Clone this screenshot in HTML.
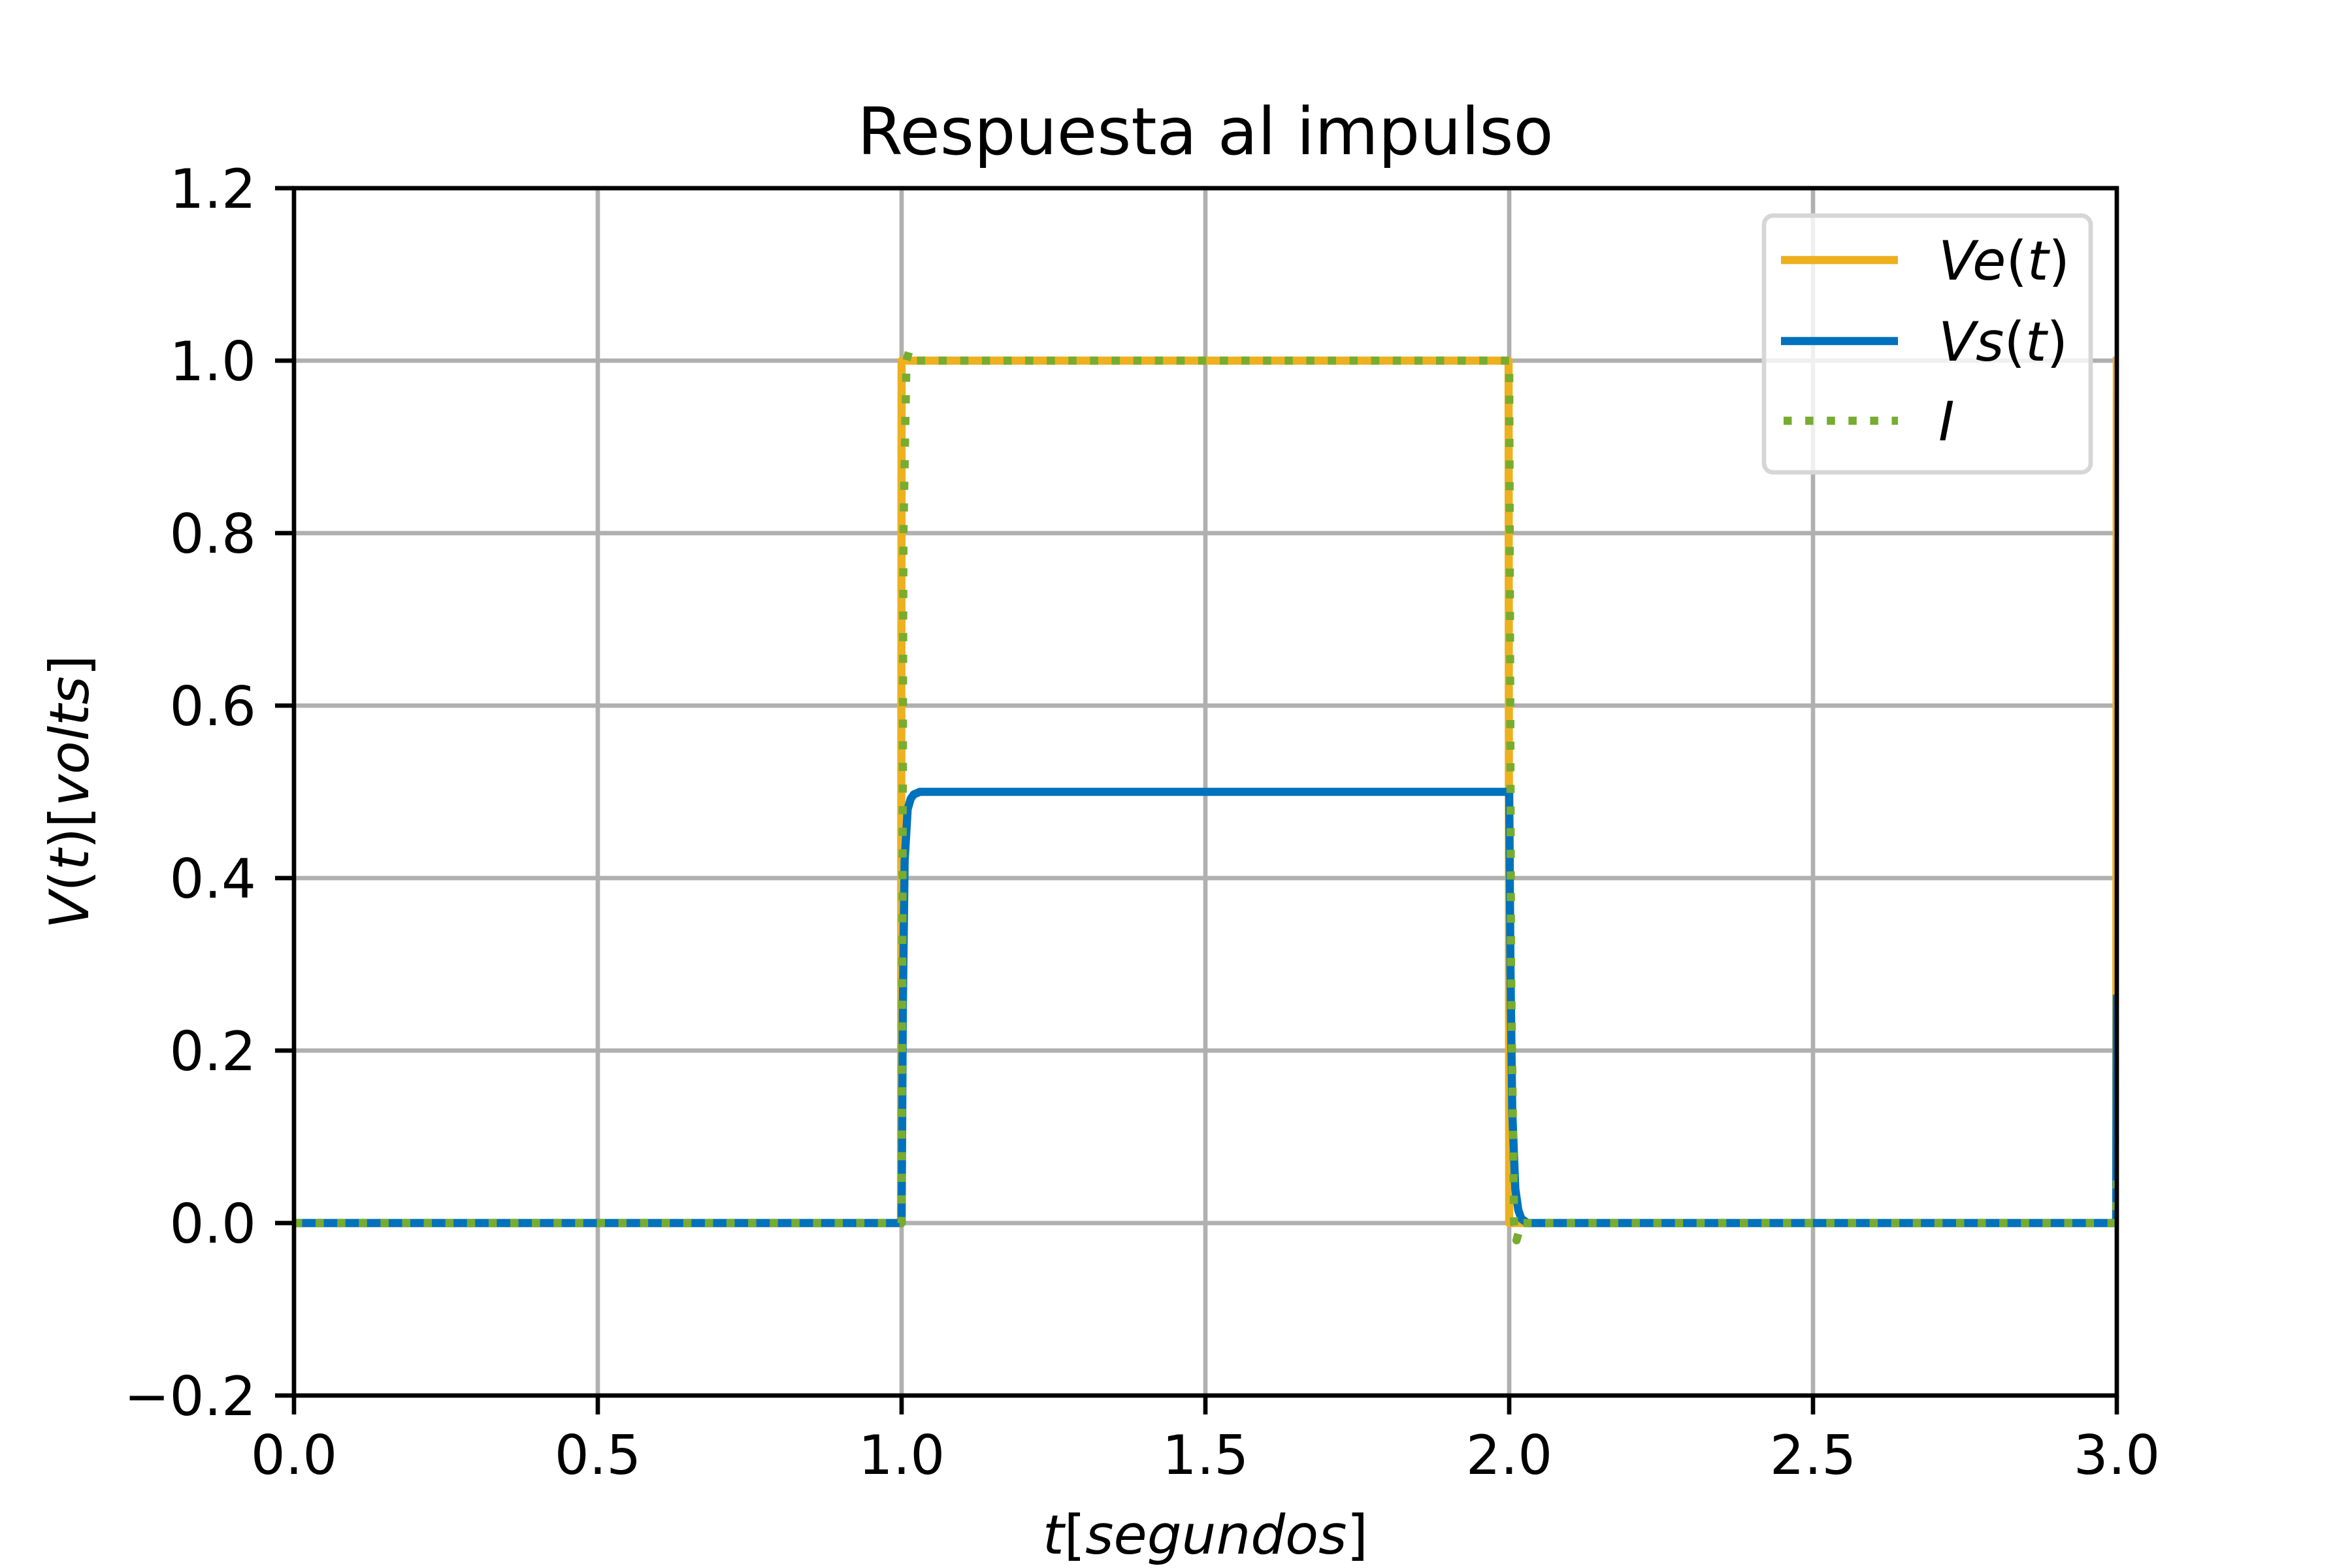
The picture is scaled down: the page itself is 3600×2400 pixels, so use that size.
<!DOCTYPE html>
<html><head><meta charset="utf-8"><style>
html,body{margin:0;padding:0;background:#fff;}
svg{display:block;font-family:"DejaVu Sans","Liberation Sans",sans-serif;}
.u{font-style:normal;}
</style></head><body>
<svg id="chart" width="3600" height="2400" viewBox="0 0 3600 2400" xmlns="http://www.w3.org/2000/svg">
<defs><clipPath id="clip"><rect x="450" y="288" width="2790" height="1848"/></clipPath></defs>
<rect width="3600" height="2400" fill="#fff"/>
<g id="grid"></g>
<g id="series" clip-path="url(#clip)"></g>
<rect x="450" y="288" width="2790" height="1848" fill="none" stroke="#000" stroke-width="6.67"/>
<g id="ticks"></g>
<text x="1845" y="236" font-size="100" text-anchor="middle">Respuesta al impulso</text>
<text x="1845" y="2378" font-size="83.3" font-style="italic" text-anchor="middle">t<tspan class="u">[</tspan>segundos<tspan class="u">]</tspan></text>
<text transform="translate(135,1212) rotate(-90)" font-size="83.3" font-style="italic" text-anchor="middle">V<tspan class="u">(</tspan>t<tspan class="u">)[</tspan>volts<tspan class="u">]</tspan></text>
<g>
<rect x="2700" y="330" width="500" height="393" rx="14" fill="#fff" fill-opacity="0.8" stroke="#d6d6d6" stroke-width="6.67"/>
<line x1="2726" y1="398" x2="2905" y2="398" stroke="#EDB120" stroke-width="12.5"/>
<text x="2967" y="428" font-size="83.3" font-style="italic">Ve<tspan class="u">(</tspan>t<tspan class="u">)</tspan></text>
<line x1="2726" y1="522" x2="2905" y2="522" stroke="#0072BD" stroke-width="12.5"/>
<text x="2967" y="552" font-size="83.3" font-style="italic">Vs<tspan class="u">(</tspan>t<tspan class="u">)</tspan></text>
<line x1="2730" y1="644" x2="2905" y2="644" stroke="#77AC30" stroke-width="12.5" stroke-dasharray="12.5 20.6"/>
<text x="2967" y="674" font-size="83.3" font-style="italic">I</text>
</g>
</svg>
<script>
const xTicks=[0,0.5,1.0,1.5,2.0,2.5,3.0];
const xTickLabels=["0.0","0.5","1.0","1.5","2.0","2.5","3.0"];
const yTicks=[-0.2,0,0.2,0.4,0.6,0.8,1.0,1.2];
const yTickLabels=["\u22120.2","0.0","0.2","0.4","0.6","0.8","1.0","1.2"];
const veT=[0,0.999,1.0,1.999,2.0,2.999,3.0];
const veV=[0,0,1,1,0,0,1];
const vsT=[0,1.0,1.002,1.005,1.01,1.015,1.02,1.03,2.0,2.002,2.005,2.01,2.015,2.02,2.03,2.999,3.0];
const vsV=[0,0,0.25,0.42,0.48,0.492,0.497,0.5,0.5,0.3,0.13,0.04,0.015,0.005,0,0,0.26];
const iT=[0,1.0,1.003,1.008,1.012,1.02,2.0,2.003,2.008,2.012,2.02,2.999,3.0];
const iV=[0,0,0.8,1.0,1.01,1.0,1.0,0.3,0.0,-0.02,0,0,0.05];
const X0=450,X1=3240,Y0=2136,Y1=288;
const xs=v=>X0+(v-0)/(3-0)*(X1-X0);
const ys=v=>Y0-(v+0.2)/(1.4)*(Y0-Y1);
const NS="http://www.w3.org/2000/svg";
const grid=document.getElementById('grid'),ticks=document.getElementById('ticks'),series=document.getElementById('series');
function mk(tag,attrs,parent){const e=document.createElementNS(NS,tag);for(const k in attrs)e.setAttribute(k,attrs[k]);parent.appendChild(e);return e;}
xTicks.forEach((v,i)=>{
  const g=mk('line',{x1:xs(v),x2:xs(v),y1:Y1,y2:Y0,stroke:'#b0b0b0','stroke-width':6.67},grid);
  
  
  const t=mk('line',{x1:xs(v),x2:xs(v),y1:Y0,y2:Y0+29,stroke:'#000','stroke-width':6.67},ticks);
  
  
  const l=mk('text',{x:xs(v),y:Y0+120,'font-size':83.3,'text-anchor':'middle'},ticks);
  l.textContent=xTickLabels[i];
  
  
});
yTicks.forEach((v,i)=>{
  const g=mk('line',{x1:X0,x2:X1,y1:ys(v),y2:ys(v),stroke:'#b0b0b0','stroke-width':6.67},grid);
  
  
  const t=mk('line',{x1:X0-29,x2:X0,y1:ys(v),y2:ys(v),stroke:'#000','stroke-width':6.67},ticks);
  
  
  const l=mk('text',{x:X0-58,y:ys(v)+30,'font-size':83.3,'text-anchor':'end'},ticks);
  l.textContent=yTickLabels[i];
  
  
});
function drawLine(T,V,color,dash,name){
  const d=T.map((t,i)=>(i?'L':'M')+xs(t).toFixed(2)+','+ys(V[i]).toFixed(2)).join(' ');
  const attrs={d:d,fill:'none',stroke:color,'stroke-width':12.5,'stroke-linejoin':'round'};
  if(dash){attrs['stroke-dasharray']=dash;}else{attrs['stroke-linecap']='square';}
  const p=mk('path',attrs,series);
  
  
}
drawLine(veT,veV,'#EDB120',null,'ve-line');
drawLine(vsT,vsV,'#0072BD',null,'vs-line');
drawLine(iT,iV,'#77AC30','12.5 20.6','i-line');
</script>
</body></html>
